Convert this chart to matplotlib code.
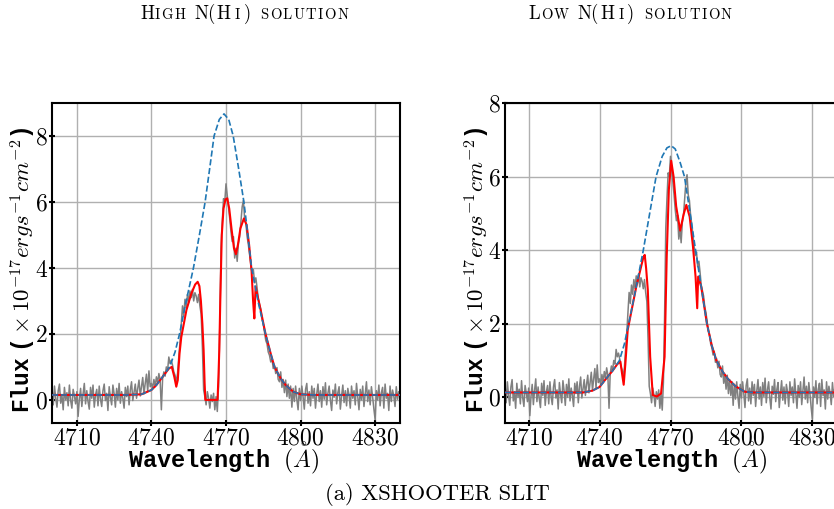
import numpy as np
import matplotlib
matplotlib.use("Agg")
import matplotlib.pyplot as plt
from matplotlib.transforms import IdentityTransform

plt.rcParams["font.family"] = "cmr10"
plt.rcParams["axes.formatter.use_mathtext"] = True
plt.rcParams["mathtext.fontset"] = "custom"
plt.rcParams["mathtext.rm"] = "cmr10"
plt.rcParams["mathtext.it"] = "cmmi10"
plt.rcParams["mathtext.bf"] = "cmb10"
plt.rcParams["mathtext.sf"] = "cmss10"
plt.rcParams["mathtext.cal"] = "cmsy10"
plt.rcParams["mathtext.tt"] = "Liberation Mono:bold"
plt.rcParams["mathtext.fallback"] = "cm"

# observed spectrum (shared by both panels), 0.5 A pixels from 4700 A
flux = [
    0.35, -0.15, 0.42, 0.05, -0.22, 0.28, 0.48, -0.10, 0.15, -0.30, 0.38, 0.00, 0.22, -0.18, 0.45, -0.02, -0.25, 0.32, 0.12, -0.12,
    0.25, -0.50, 0.02, 0.35, -0.20, 0.18, 0.50, -0.12, 0.28, -0.05, -0.28, 0.38, 0.05, 0.45, -0.22, 0.15, 0.32, -0.18, 0.42, 0.02,
    -0.20, 0.28, 0.48, -0.02, 0.20, -0.32, 0.40, 0.08, -0.15, 0.45, 0.18, -0.22, 0.35, 0.00, 0.50, -0.10, 0.25, 0.05, -0.25, 0.38,
    0.10, 0.42, -0.15, 0.30, 0.55, -0.02, 0.22, 0.48, 0.05, 0.35, 0.60, 0.12, 0.40, 0.68, 0.18, 0.50, 0.78, 0.25, 0.88, 0.40,
    0.50, 0.35, 0.62, 0.40, 0.70, 0.52, 0.80, 0.60, -0.30, 0.65, 0.85, 0.72, 1.00, 0.90, 1.30, 1.10, 1.20, 1.05, 0.85, 0.75,
    0.55, 0.80, 1.30, 1.75, 2.30, 2.85, 2.55, 3.05, 2.80, 3.20, 2.95, 3.30, 3.10, 3.35, 3.00, 3.25, 3.15, 2.95, 3.20, 2.85,
    2.60, 1.60, 0.30, 0.10, -0.15, 0.25, 0.05, -0.25, 0.15, -0.05, 0.20, -0.30, 0.10, -0.35, 0.40, 2.20, 4.60, 5.40, 6.10, 6.00,
    6.55, 6.20, 5.85, 5.50, 5.10, 4.80, 4.95, 4.30, 4.60, 4.20, 4.75, 4.95, 5.40, 5.85, 6.05, 5.50, 5.35, 4.95, 4.70, 4.40,
    4.10, 3.85, 3.95, 3.55, 3.70, 3.40, 3.05, 2.90, 2.75, 2.45, 2.30, 2.05, 1.80, 1.70, 1.45, 1.35, 1.15, 1.25, 0.95, 1.05,
    0.80, 0.98, 0.62, 0.55, 0.85, 0.38, 0.62, 0.22, 0.60, 0.10, 0.48, 0.05, 0.42, -0.22, 0.35, -0.05, 0.42, 0.02, -0.30, 0.35,
    -0.02, 0.42, 0.10, -0.28, 0.32, 0.50, -0.10, 0.25, -0.18, 0.42, 0.05, 0.35, -0.25, 0.18, 0.48, -0.05, 0.28, -0.22, 0.40, 0.02,
    0.52, -0.15, 0.20, 0.42, -0.02, -0.32, 0.30, 0.08, 0.48, -0.12, 0.22, 0.40, -0.28, 0.12, 0.45, -0.08, 0.28, -0.18, 0.35, 0.15,
    -0.25, 0.42, 0.05, 0.28, -0.15, 0.50, 0.10, -0.30, 0.32, 0.00, 0.42, -0.20, 0.18, 0.55, -0.05, 0.30, -0.15, 0.40, 0.08, -0.28,
    -0.60, 0.28, 0.00, 0.45, -0.18, 0.22, 0.38, -0.25, 0.48, 0.05, 0.20, -0.32, 0.42, -0.05, 0.30, 0.12, -0.20, 0.40, 0.02, 0.25,
    0.10,
]
wave = 4700 + 0.5 * np.arange(len(flux))

# intrinsic emission (blue dashed), high N(HI) solution
cont_wave_high = [4700, 4730, 4736, 4740, 4742, 4745, 4747.3, 4749.5, 4751.3, 4754, 4756.9, 4759.3,
                  4761.6, 4763.5, 4765.2, 4767.3, 4769.2, 4771.1, 4772.9, 4775, 4777.2, 4778.8,
                  4780.3, 4783, 4785.9, 4788, 4789.5, 4792, 4794, 4797, 4800, 4805, 4840]
cont_high = [0.15, 0.15, 0.17, 0.3, 0.45, 0.75, 1.0, 1.45, 2.0, 3.0, 4.0, 5.0,
             6.0, 7.05, 8.0, 8.5, 8.67, 8.5, 8.0, 7.05, 6.0, 5.0,
             4.0, 2.95, 2.0, 1.4, 1.0, 0.65, 0.45, 0.25, 0.17, 0.15, 0.15]

# absorbed model (red), high N(HI) solution
model_wave_high = [4700, 4730, 4736, 4740, 4742, 4745, 4747, 4748.2, 4749.2, 4750.0, 4750.6, 4751.3,
                   4752.0, 4754.1, 4756.1, 4757.6, 4758.6, 4759.3, 4759.9, 4760.5, 4761.0, 4761.4,
                   4761.7, 4766.6, 4767.0, 4767.3, 4767.7, 4768.3, 4769.0, 4769.8, 4770.5, 4771.3,
                   4772.2, 4773.2, 4774.0, 4774.8, 4775.8, 4777.2, 4778.3, 4779.3, 4780.3, 4780.9,
                   4781.4, 4781.9, 4783, 4784, 4785.9, 4788, 4789.5, 4792, 4794, 4797, 4800, 4805, 4840]
model_high = [0.15, 0.15, 0.17, 0.3, 0.45, 0.75, 0.95, 1.0, 0.7, 0.4, 0.6, 1.4,
              1.9, 2.73, 3.23, 3.5, 3.58, 3.45, 3.0, 2.3, 1.5, 0.5,
              0.0, 0.0, 0.8, 1.5, 3.0, 5.0, 5.8, 6.08, 6.11, 5.8,
              5.2, 4.6, 4.42, 4.7, 5.2, 5.5, 5.3, 4.7, 3.9, 3.0,
              2.47, 3.43, 3.05, 2.7, 2.0, 1.4, 1.0, 0.65, 0.45, 0.25, 0.17, 0.15, 0.15]

# intrinsic emission (blue dashed), low N(HI) solution
cont_wave_low = [4700, 4733, 4737, 4740, 4742.7, 4745.5, 4748.4, 4750.5, 4752.3, 4755.5, 4758.5, 4761.2,
                 4763.9, 4766.5, 4768.5, 4770.3, 4772, 4774, 4775.9, 4778.3, 4780.6, 4783,
                 4785.4, 4787.5, 4789.4, 4792, 4794.3, 4797.5, 4801.4, 4805, 4840]
cont_low = [0.13, 0.13, 0.18, 0.28, 0.5, 0.72, 1.0, 1.45, 2.0, 3.0, 4.0, 5.0,
            6.0, 6.55, 6.78, 6.84, 6.75, 6.4, 6.0, 5.0, 4.0, 3.0,
            2.0, 1.4, 1.0, 0.7, 0.5, 0.3, 0.15, 0.13, 0.13]

# absorbed model (red), low N(HI) solution
model_wave_low = [4700, 4733, 4737, 4740, 4742.7, 4745.5, 4747.5, 4748.8, 4749.6, 4750.2, 4750.9, 4751.9,
                  4755.5, 4758.5, 4759.1, 4759.7, 4760.4, 4761.4, 4762.5, 4764.2, 4766.0, 4767.5,
                  4768.4, 4769.3, 4770.3, 4771.3, 4772.4, 4774.1, 4775.5, 4776.7, 4778.1, 4779.5,
                  4780.6, 4781.3, 4781.7, 4783, 4785.4, 4787.5, 4789.4, 4792, 4794.3, 4797.5, 4801.4, 4805, 4840]
model_low = [0.13, 0.13, 0.18, 0.28, 0.5, 0.72, 0.9, 0.97, 0.6, 0.34, 0.9, 1.83,
             3.0, 3.8, 3.87, 3.5, 2.92, 1.1, 0.06, 0.02, 0.1, 1.1,
             3.83, 5.64, 6.43, 6.0, 5.19, 4.53, 4.96, 5.23, 4.91, 4.1,
             3.28, 2.42, 3.28, 3.0, 2.0, 1.4, 1.0, 0.7, 0.5, 0.3, 0.15, 0.13, 0.13]

xticks = [4710, 4740, 4770, 4800, 4830]
yticks = [0, 2, 4, 6, 8]

W, H = 834, 509
fig = plt.figure(figsize=(W / 100, H / 100), dpi=100)


def px_axes(left, top, right, bottom):
    return fig.add_axes([left / W, 1 - bottom / H, (right - left) / W, (bottom - top) / H])


def px_text(x, y, s, **kw):
    """Text at pixel position measured from the top-left corner."""
    return fig.text(x, H - y, s, transform=IdentityTransform(), **kw)


def text_run(x, y, pieces):
    """Pieces of text side by side on one baseline, centred at x (px from left)."""
    r = fig.canvas.get_renderer()
    texts, lengths = [], []
    for s, kw, gap in pieces:
        t = px_text(0, y, s, ha="left", va="baseline", **kw)
        texts.append(t)
        lengths.append(t.get_window_extent(r).width + gap)
    pos = x - sum(lengths) / 2
    for t, L in zip(texts, lengths):
        t.set_x(pos)
        pos += L


def small_caps(word, big, small, track=1.4):
    """Fake \\textsc: first letter large (if upper), rest as spaced small capitals."""
    out = []
    for i, ch in enumerate(word):
        if i == 0 and ch.isupper():
            out.append((ch, big, 0.5))
        else:
            out.append((ch.upper(), small, track))
    return out


panels = [
    (px_axes(52, 103, 400, 423), model_wave_high, model_high, cont_wave_high, cont_high, 9.0),
    (px_axes(505, 103, 836, 423), model_wave_low, model_low, cont_wave_low, cont_low, 8.0),
]
for ax, mw, mf, cw, cf, ytop in panels:
    ax.plot(wave, flux, color="gray", lw=1.1, zorder=2)
    ax.plot(mw, mf, color="red", lw=1.5, zorder=3)
    ax.plot(cw, cf, color="#1f77b4", lw=1.2, ls="--", zorder=4)
    ax.set_xlim(4700, 4840)
    ax.set_ylim(-0.7, ytop)
    ax.set_xticks(xticks)
    ax.set_yticks(yticks)
    ax.grid(True, color="#b0b0b0", lw=1.0)
    ax.set_axisbelow(True)
    ax.tick_params(direction="inout", length=4, width=1.5, labelsize=17, pad=1)
    for sp in ax.spines.values():
        sp.set_linewidth(1.5)

# axis labels
xlab = r"$\mathtt{Wavelength}\ \ (\mathring{A})$"
ylab = r"$\mathtt{Flux\ (}\times10^{-17}ergs^{-1}cm^{-2}\mathtt{)}$"
for xc in (224, 672):
    px_text(xc, 467, xlab, ha="center", va="baseline", fontsize=17)
for xb in (31, 484):
    px_text(xb, 270, ylab, ha="center", va="baseline", rotation=90,
            rotation_mode="anchor", fontsize=16.5)

# titles in small caps
big = dict(fontsize=13.5)
small = dict(fontsize=10.5)
for xc, first in [(245, "High"), (631, "Low")]:
    pieces = small_caps(first, big, small)
    pieces[-1] = (pieces[-1][0], small, 9)
    pieces += [("N(", big, 1), ("H", big, 4), ("I", small, 4), (")", big, 9)]
    pieces += small_caps("solution", big, small)
    text_run(xc, 19, pieces)

px_text(437, 500, "(a) XSHOOTER SLIT", ha="center", va="baseline", fontsize=16.3)

fig.savefig("out.png", dpi=100)
